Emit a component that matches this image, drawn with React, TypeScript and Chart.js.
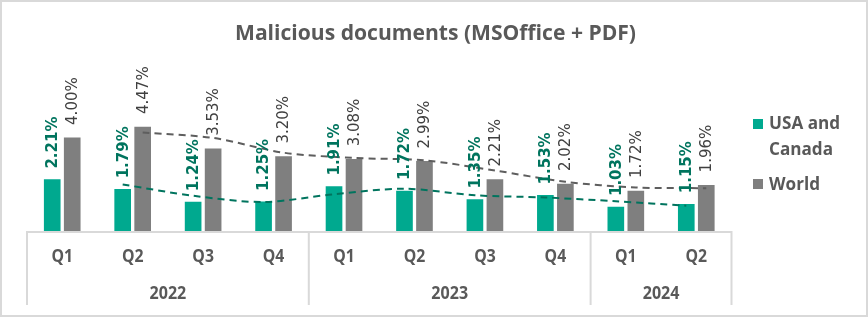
import { useEffect, useRef } from "react";
import { Chart, registerables } from "chart.js";

Chart.register(...registerables);

const chartTitle = "Malicious documents (MSOffice + PDF)";
const quarters = ["Q1", "Q2", "Q3", "Q4", "Q1", "Q2", "Q3", "Q4", "Q1", "Q2"];
const years = ["2022", "2023", "2024"];
const yearSpans = [4, 4, 2];
const seriesNames = ["USA and Canada", "World"];
const usaCanada = [2.21, 1.79, 1.24, 1.25, 1.91, 1.72, 1.35, 1.53, 1.03, 1.15];
const world = [4.0, 4.47, 3.53, 3.2, 3.08, 2.99, 2.21, 2.02, 1.72, 1.96];
const trendPeriod = 2; // Excel "2 per. Mov. Avg." trendline

const GREEN = "#00A98F";
const GREEN_DARK = "#00745E";
const GREY = "#7F7F7F";
const GREY_DARK = "#5E5E5E";
const TEXT = "#595959";
const LINE = "#D9D9D9";

// fraction of a category occupied by one bar slot (two slots per category)
const SLOT = 0.2838;
const BAR_FILL = 0.8;

function barPoints(values: number[], offset: number) {
  return values.map((v, i) => ({ x: i + offset, y: v }));
}

function movingAverage(values: number[], period: number, offset: number) {
  const pts: { x: number; y: number }[] = [];
  for (let i = period - 1; i < values.length; i++) {
    let s = 0;
    for (let k = 0; k < period; k++) s += values[i - k];
    pts.push({ x: i + offset, y: s / period });
  }
  return pts;
}

function fitScale(ctx: CanvasRenderingContext2D, font: string, sample: string, width: number) {
  ctx.save();
  ctx.font = font;
  const w = ctx.measureText(sample).width;
  ctx.restore();
  return width / w;
}

function drawScaled(
  ctx: CanvasRenderingContext2D,
  text: string,
  x: number,
  y: number,
  font: string,
  sx: number,
  align: CanvasTextAlign,
  color: string
) {
  ctx.save();
  ctx.font = font;
  ctx.fillStyle = color;
  ctx.textAlign = align;
  ctx.textBaseline = "alphabetic";
  ctx.translate(x, y);
  ctx.scale(sx, 1);
  ctx.fillText(text, 0, 0);
  ctx.restore();
}

const decorPlugin = {
  id: "decor",
  beforeDraw(chart: any) {
    const ctx = chart.ctx as CanvasRenderingContext2D;
    ctx.save();
    ctx.fillStyle = "#FFFFFF";
    ctx.fillRect(0, 0, chart.width, chart.height);
    ctx.restore();
  },
  afterDatasetsDraw(chart: any) {
    const ctx = chart.ctx as CanvasRenderingContext2D;
    const cfgs = [
      { idx: 0, vals: usaCanada, font: "bold 15px 'DejaVu Sans'", color: GREEN_DARK, gap: 11 },
      { idx: 1, vals: world, font: "15px 'DejaVu Sans'", color: "#404040", gap: 13 },
    ];
    cfgs.forEach((c) => {
      const meta = chart.getDatasetMeta(c.idx);
      meta.data.forEach((bar: any, i: number) => {
        const p = bar.getProps(["x", "y"], true);
        ctx.save();
        ctx.font = c.font;
        ctx.fillStyle = c.color;
        ctx.textAlign = "left";
        ctx.textBaseline = "middle";
        ctx.translate(p.x + 1, p.y - c.gap);
        ctx.rotate(-Math.PI / 2);
        ctx.fillText(c.vals[i].toFixed(2) + "%", 0, 0);
        ctx.restore();
      });
    });
  },
  afterDraw(chart: any) {
    const ctx = chart.ctx as CanvasRenderingContext2D;
    const area = chart.chartArea;
    const xs = chart.scales.x;

    const bounds = [0];
    let acc = 0;
    yearSpans.forEach((s) => {
      acc += s;
      bounds.push(acc);
    });
    const edge = (b: number) => xs.getPixelForValue(b - 0.5);

    // axis box lines
    ctx.save();
    ctx.strokeStyle = LINE;
    ctx.lineWidth = 2;
    ctx.beginPath();
    ctx.moveTo(area.left, area.bottom + 1);
    ctx.lineTo(area.right, area.bottom + 1);
    bounds.forEach((b) => {
      const x = edge(b);
      ctx.moveTo(x, area.bottom);
      ctx.lineTo(x, 305);
    });
    ctx.stroke();
    ctx.strokeRect(1, 1, chart.width - 2, chart.height - 2);
    ctx.restore();

    // quarter labels
    const qFont = "bold 17px 'Open Sans'";
    const sq = fitScale(ctx, qFont, "Q1", 21.6);
    quarters.forEach((q, i) => {
      drawScaled(ctx, q, xs.getPixelForValue(i), 262, qFont, sq, "center", TEXT);
    });
    // year labels
    const yFont = "bold 17px 'Open Sans'";
    const sy = fitScale(ctx, yFont, "2022", 36.7);
    years.forEach((y, k) => {
      const x0 = edge(bounds[k]);
      const x1 = edge(bounds[k + 1]);
      drawScaled(ctx, y, (x0 + x1) / 2, 299, yFont, sy, "center", TEXT);
    });

    // title
    const tFont = "bold 22px 'Open Sans'";
    const st = fitScale(ctx, tFont, chartTitle, 401);
    drawScaled(ctx, chartTitle, 435.5, 40, tFont, st, "center", TEXT);

    // legend
    const lFont = "bold 18px 'Open Sans'";
    const sl = fitScale(ctx, lFont, "World", 51);
    ctx.save();
    ctx.fillStyle = GREEN;
    ctx.fillRect(753, 119, 10, 10);
    ctx.fillStyle = GREY;
    ctx.fillRect(753, 179, 10, 10);
    ctx.restore();
    const words = seriesNames[0].split(" ");
    drawScaled(ctx, words.slice(0, 2).join(" "), 769, 129, lFont, sl, "left", TEXT);
    drawScaled(ctx, words.slice(2).join(" "), 769, 155, lFont, sl, "left", TEXT);
    drawScaled(ctx, seriesNames[1], 769, 190, lFont, sl, "left", TEXT);
  },
};

export default function App() {
  const ref = useRef<HTMLCanvasElement | null>(null);

  useEffect(() => {
    if (!ref.current) return;
    const off = SLOT / 2;
    const yMax = 6;
    const left = 27;
    const right = 731.5;
    const bottom = 231;
    const pxPerUnit = 23.27;
    const top = bottom - yMax * pxPerUnit;
    const catW = (right - left) / quarters.length;
    const barW = catW * SLOT * BAR_FILL;
    const chart = new Chart(ref.current, {
      type: "bar",
      data: {
        datasets: [
          {
            type: "bar",
            label: seriesNames[0],
            data: barPoints(usaCanada, -off) as any,
            backgroundColor: GREEN,
            barThickness: barW,
            grouped: false,
            order: 1,
          },
          {
            type: "bar",
            label: seriesNames[1],
            data: barPoints(world, off) as any,
            backgroundColor: GREY,
            barThickness: barW,
            grouped: false,
            order: 1,
          },
          {
            type: "line",
            label: "trend usa",
            data: movingAverage(usaCanada, trendPeriod, -off) as any,
            borderColor: GREEN_DARK,
            borderWidth: 2,
            borderDash: [7, 5],
            pointRadius: 0,
            tension: 0.3,
            fill: false,
            order: 0,
          },
          {
            type: "line",
            label: "trend world",
            data: movingAverage(world, trendPeriod, off) as any,
            borderColor: GREY_DARK,
            borderWidth: 2,
            borderDash: [7, 5],
            pointRadius: 0,
            tension: 0.3,
            fill: false,
            order: 0,
          },
        ],
      },
      options: {
        responsive: false,
        animation: false,
        devicePixelRatio: 1,
        layout: {
          padding: { left: left, right: 868 - right, top: top, bottom: 317 - bottom },
        },
        plugins: {
          legend: { display: false },
          title: { display: false },
          tooltip: { enabled: false },
        },
        scales: {
          x: {
            type: "linear",
            display: false,
            offset: false,
            min: -0.5,
            max: quarters.length - 0.5,
          },
          y: { display: false, min: 0, max: yMax },
        },
      },
      plugins: [decorPlugin],
    });
    return () => chart.destroy();
  }, []);

  return (
    <div style={{ position: "fixed", left: 0, top: 0, width: 868, height: 317, background: "#fff" }}>
      <canvas ref={ref} width={868} height={317} style={{ display: "block" }} />
    </div>
  );
}
